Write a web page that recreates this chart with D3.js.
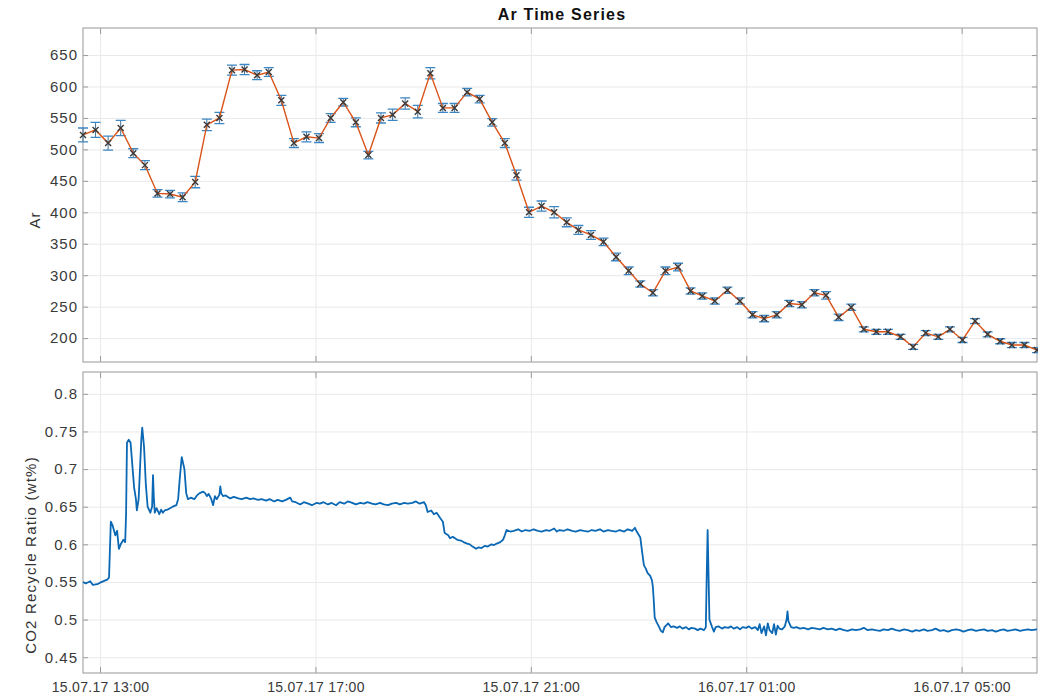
<!DOCTYPE html>
<html>
<head>
<meta charset="utf-8">
<script src="https://cdn.jsdelivr.net/npm/d3@7"></script>
<style>
  body { margin: 0; background: #fff; }
  svg { display: block; font-family: "Liberation Sans", Arial, sans-serif; }
  .axis path { display: none; }
  .axis line { stroke: #9a9a9a; }
  .axis text { fill: #3a3a3a; }
  .xaxis text { font-size: 14px; letter-spacing: 0.3px; }
  .yaxis text { font-size: 15px; letter-spacing: 1px; }
  .grid line { stroke: #e9e9e9; }
  .grid path { display: none; }
</style>
</head>
<body>
<div id="chart"></div>
<script>
// Ar samples (15.07.17 12:41 -> 16.07.17 06:24)
const arTimes = [
  '15.07.17 12:41', '15.07.17 12:55', '15.07.17 13:09', '15.07.17 13:23', '15.07.17 13:37', '15.07.17 13:50',
  '15.07.17 14:04', '15.07.17 14:18', '15.07.17 14:32', '15.07.17 14:46', '15.07.17 14:59', '15.07.17 15:13',
  '15.07.17 15:27', '15.07.17 15:41', '15.07.17 15:55', '15.07.17 16:08', '15.07.17 16:22', '15.07.17 16:36',
  '15.07.17 16:50', '15.07.17 17:04', '15.07.17 17:17', '15.07.17 17:31', '15.07.17 17:45', '15.07.17 17:59',
  '15.07.17 18:13', '15.07.17 18:26', '15.07.17 18:40', '15.07.17 18:54', '15.07.17 19:08', '15.07.17 19:22',
  '15.07.17 19:35', '15.07.17 19:49', '15.07.17 20:03', '15.07.17 20:17', '15.07.17 20:31', '15.07.17 20:44',
  '15.07.17 20:58', '15.07.17 21:12', '15.07.17 21:26', '15.07.17 21:40', '15.07.17 21:53', '15.07.17 22:07',
  '15.07.17 22:21', '15.07.17 22:35', '15.07.17 22:49', '15.07.17 23:02', '15.07.17 23:16', '15.07.17 23:30',
  '15.07.17 23:44', '15.07.17 23:58', '16.07.17 00:11', '16.07.17 00:25', '16.07.17 00:39', '16.07.17 00:53',
  '16.07.17 01:07', '16.07.17 01:20', '16.07.17 01:34', '16.07.17 01:48', '16.07.17 02:02', '16.07.17 02:16',
  '16.07.17 02:29', '16.07.17 02:43', '16.07.17 02:57', '16.07.17 03:11', '16.07.17 03:25', '16.07.17 03:38',
  '16.07.17 03:52', '16.07.17 04:06', '16.07.17 04:20', '16.07.17 04:34', '16.07.17 04:47', '16.07.17 05:01',
  '16.07.17 05:15', '16.07.17 05:29', '16.07.17 05:43', '16.07.17 05:56', '16.07.17 06:10', '16.07.17 06:24'
];
const arValues = [
  523, 531, 510, 534, 494, 475, 430, 429, 424, 448, 539, 550,
  626, 627, 618, 623, 578, 510, 520, 518, 550, 575, 543, 491,
  550, 555, 573, 560, 621, 566, 566, 591, 580, 543, 510, 459,
  400, 410, 400, 384, 372, 364, 353, 329, 307, 286, 272, 307,
  313, 275, 267, 259, 276, 259, 237, 231, 237, 255, 253, 272,
  268, 233, 249, 214, 210, 210, 202, 186, 208, 202, 214, 197,
  227, 206, 195, 189, 189, 181
];
const arErrors = [
  11, 12, 11, 12, 7, 7, 6, 6, 7, 9, 9, 9,
  8, 8, 7, 7, 8, 7, 8, 7, 7, 6, 7, 6,
  8, 9, 9, 10, 9, 7, 7, 6, 6, 6, 7, 8,
  8, 8, 9, 7, 7, 7, 6, 6, 6, 5, 5, 6,
  6, 5, 5, 5, 5, 5, 5, 5, 5, 5, 5, 5,
  6, 5, 5, 4, 4, 4, 4, 4, 4, 4, 4, 4,
  4, 4, 4, 4, 4, 4
];

// CO2 recycle ratio, minutes after the first Ar sample
const co2Minutes = [
  0, 3, 8, 11, 16, 19, 23, 27, 29, 31, 33, 36, 38, 40, 42, 45, 47, 48, 49, 51,
  53, 56, 57, 59, 60, 62, 65, 66, 68, 70, 72, 75, 77, 78, 79, 80, 82, 85, 87, 89,
  91, 94, 97, 100, 104, 106, 108, 110, 113, 115, 117, 120, 124, 127, 130, 134, 136, 138, 140, 143,
  145, 147, 149, 152, 153, 154, 156, 159, 164, 168, 173, 177, 182, 186, 190, 195, 199, 204, 208, 213,
  217, 222, 226, 231, 233, 237, 242, 246, 251, 255, 260, 264, 268, 273, 277, 282, 286, 291, 295, 300,
  304, 309, 313, 317, 322, 326, 331, 335, 340, 344, 349, 353, 358, 362, 367, 371, 375, 380, 382, 384,
  388, 391, 394, 398, 401, 403, 407, 409, 412, 417, 421, 424, 428, 431, 434, 438, 441, 444, 448, 451,
  455, 458, 461, 465, 468, 470, 472, 476, 480, 485, 489, 493, 498, 502, 507, 511, 516, 520, 525, 528,
  531, 536, 540, 545, 549, 554, 558, 563, 567, 571, 576, 580, 585, 589, 594, 598, 603, 607, 612, 615,
  617, 621, 623, 625, 627, 629, 632, 634, 635, 636, 637, 639, 642, 644, 646, 648, 652, 655, 658, 662,
  665, 668, 672, 675, 678, 682, 685, 688, 692, 694, 695, 696, 697, 698, 701, 703, 705, 708, 712, 715,
  719, 722, 725, 729, 732, 735, 739, 742, 745, 749, 752, 754, 756, 759, 761, 763, 765, 768, 770, 772,
  774, 776, 779, 782, 784, 785, 786, 789, 792, 795, 799, 803, 808, 812, 817, 821, 825, 830, 834, 839,
  843, 848, 852, 857, 861, 866, 870, 874, 879, 883, 888, 892, 897, 901, 906, 910, 915, 919, 924, 928,
  932, 937, 941, 946, 950, 955, 959, 964, 968, 973, 977, 981, 986, 990, 995, 999, 1004, 1008, 1013, 1017,
  1022, 1026, 1030, 1035, 1039, 1044, 1048, 1053, 1057, 1063
];
const co2Values = [
  0.550, 0.548, 0.551, 0.546, 0.547, 0.549, 0.551, 0.553, 0.556, 0.630, 0.625, 0.612, 0.618, 0.594, 0.600, 0.606, 0.603, 0.640, 0.735, 0.739,
  0.735, 0.690, 0.675, 0.660, 0.645, 0.660, 0.740, 0.755, 0.730, 0.680, 0.650, 0.642, 0.650, 0.692, 0.660, 0.642, 0.648, 0.640, 0.646, 0.642,
  0.645, 0.646, 0.648, 0.650, 0.652, 0.660, 0.690, 0.716, 0.700, 0.668, 0.660, 0.662, 0.660, 0.665, 0.668, 0.670, 0.668, 0.664, 0.667, 0.660,
  0.652, 0.664, 0.660, 0.666, 0.677, 0.668, 0.664, 0.665, 0.661, 0.663, 0.661, 0.660, 0.662, 0.660, 0.661, 0.659, 0.660, 0.658, 0.660, 0.657,
  0.659, 0.657, 0.659, 0.662, 0.657, 0.656, 0.653, 0.656, 0.654, 0.652, 0.655, 0.654, 0.656, 0.653, 0.655, 0.652, 0.656, 0.654, 0.657, 0.655,
  0.653, 0.655, 0.654, 0.656, 0.654, 0.653, 0.655, 0.653, 0.652, 0.654, 0.655, 0.653, 0.655, 0.654, 0.655, 0.657, 0.654, 0.656, 0.652, 0.643,
  0.645, 0.640, 0.642, 0.635, 0.630, 0.615, 0.612, 0.608, 0.610, 0.606, 0.605, 0.603, 0.601, 0.600, 0.597, 0.594, 0.596, 0.595, 0.598, 0.597,
  0.600, 0.599, 0.601, 0.603, 0.606, 0.612, 0.619, 0.617, 0.618, 0.620, 0.617, 0.619, 0.618, 0.620, 0.618, 0.617, 0.619, 0.618, 0.621, 0.617,
  0.619, 0.618, 0.620, 0.618, 0.617, 0.619, 0.618, 0.617, 0.619, 0.618, 0.620, 0.617, 0.619, 0.618, 0.617, 0.619, 0.617, 0.620, 0.618, 0.622,
  0.617, 0.609, 0.590, 0.572, 0.568, 0.562, 0.558, 0.552, 0.543, 0.525, 0.503, 0.497, 0.490, 0.485, 0.483, 0.490, 0.495, 0.490, 0.491, 0.489,
  0.491, 0.488, 0.490, 0.487, 0.489, 0.488, 0.486, 0.488, 0.486, 0.490, 0.560, 0.619, 0.560, 0.500, 0.490, 0.484, 0.490, 0.491, 0.488, 0.490,
  0.489, 0.491, 0.488, 0.490, 0.487, 0.490, 0.489, 0.491, 0.488, 0.490, 0.486, 0.494, 0.482, 0.491, 0.479, 0.495, 0.486, 0.482, 0.494, 0.480,
  0.492, 0.488, 0.487, 0.491, 0.500, 0.511, 0.498, 0.490, 0.489, 0.490, 0.488, 0.489, 0.487, 0.489, 0.488, 0.487, 0.489, 0.487, 0.488, 0.486,
  0.488, 0.486, 0.485, 0.487, 0.486, 0.487, 0.489, 0.486, 0.487, 0.486, 0.485, 0.487, 0.486, 0.488, 0.486, 0.485, 0.487, 0.486, 0.484, 0.486,
  0.485, 0.487, 0.485, 0.486, 0.488, 0.485, 0.486, 0.484, 0.486, 0.487, 0.486, 0.484, 0.486, 0.487, 0.485, 0.486, 0.487, 0.485, 0.486, 0.484,
  0.486, 0.487, 0.485, 0.486, 0.487, 0.485, 0.486, 0.487, 0.486, 0.487
];

const xTickLabels = ['15.07.17 13:00', '15.07.17 17:00', '15.07.17 21:00', '16.07.17 01:00', '16.07.17 05:00'];
const arTicks = [200, 250, 300, 350, 400, 450, 500, 550, 600, 650];
const co2Ticks = [0.45, 0.5, 0.55, 0.6, 0.65, 0.7, 0.75, 0.8];

const width = 1038, height = 700;
const left = 83, right = 1037;
const topPanel = { y0: 28, y1: 362 };
const botPanel = { y0: 372, y1: 673 };

const parseTime = d3.timeParse('%d.%m.%y %H:%M');
const fmtTime = d3.timeFormat('%d.%m.%y %H:%M');

const arData = arTimes.map((t, i) => ({ t: parseTime(t), v: arValues[i], e: arErrors[i] }));
const t0 = arData[0].t;
const co2Data = co2Minutes.map((m, i) => ({ t: d3.timeMinute.offset(t0, m), v: co2Values[i] }));
const xTicks = xTickLabels.map(parseTime);

const x = d3.scaleTime()
    .domain([t0, arData[arData.length - 1].t])
    .range([left, right]);
const yAr = d3.scaleLinear().domain([162, 693]).range([topPanel.y1, topPanel.y0]);
const yCo2 = d3.scaleLinear().domain([0.429, 0.829]).range([botPanel.y1, botPanel.y0]);

const svg = d3.select('#chart').append('svg')
    .attr('width', width)
    .attr('height', height);

function drawFrame(panel, y, ticks, fmt, showX) {
    const w = right - left, h = panel.y1 - panel.y0;

    svg.append('g').attr('class', 'grid')
        .attr('transform', `translate(0,${panel.y1})`)
        .call(d3.axisBottom(x).tickValues(xTicks).tickSize(-h).tickFormat(''));
    svg.append('g').attr('class', 'grid')
        .attr('transform', `translate(${left},0)`)
        .call(d3.axisLeft(y).tickValues(ticks).tickSize(-w).tickFormat(''));

    svg.append('g').attr('class', 'axis xaxis')
        .attr('transform', `translate(0,${panel.y1})`)
        .call(d3.axisBottom(x).tickValues(xTicks).tickSizeInner(-6).tickSizeOuter(0).tickPadding(9)
            .tickFormat(showX ? fmtTime : ''));
    svg.append('g').attr('class', 'axis')
        .attr('transform', `translate(0,${panel.y0})`)
        .call(d3.axisTop(x).tickValues(xTicks).tickSizeInner(-6).tickSizeOuter(0).tickFormat(''));
    svg.append('g').attr('class', 'axis yaxis')
        .attr('transform', `translate(${left},0)`)
        .call(d3.axisLeft(y).tickValues(ticks).tickSizeInner(-5).tickSizeOuter(0).tickPadding(5).tickFormat(fmt));
    svg.append('g').attr('class', 'axis')
        .attr('transform', `translate(${right},0)`)
        .call(d3.axisRight(y).tickValues(ticks).tickSizeInner(-5).tickSizeOuter(0).tickFormat(''));

    svg.append('rect')
        .attr('x', left).attr('y', panel.y0)
        .attr('width', w).attr('height', h)
        .attr('fill', 'none')
        .attr('stroke', '#a8a8a8')
        .attr('stroke-width', 1.2);
}

drawFrame(topPanel, yAr, arTicks, d3.format('d'), false);
drawFrame(botPanel, yCo2, co2Ticks, d => String(+d.toFixed(2)), true);

// Ar error bars, line and markers
const eb = svg.append('g').selectAll('g')
    .data(arData)
    .enter().append('g');
eb.append('line')
    .attr('x1', d => x(d.t)).attr('x2', d => x(d.t))
    .attr('y1', d => yAr(d.v - d.e)).attr('y2', d => yAr(d.v + d.e))
    .attr('stroke', '#3f6f98').attr('stroke-width', 1);
eb.append('path')
    .attr('d', d => {
        const cx = x(d.t);
        return `M${cx - 5},${yAr(d.v + d.e)}H${cx + 5}M${cx - 5},${yAr(d.v - d.e)}H${cx + 5}`;
    })
    .attr('stroke', '#3b86c4').attr('stroke-width', 1.3).attr('fill', 'none');

svg.append('path')
    .datum(arData)
    .attr('fill', 'none')
    .attr('stroke', '#d95319')
    .attr('stroke-width', 1.4)
    .attr('d', d3.line().x(d => x(d.t)).y(d => yAr(d.v)));

svg.append('g').selectAll('path')
    .data(arData)
    .enter().append('path')
    .attr('d', d => {
        const cx = x(d.t), cy = yAr(d.v), s = 3;
        return `M${cx - s},${cy - s}L${cx + s},${cy + s}M${cx - s},${cy + s}L${cx + s},${cy - s}`;
    })
    .attr('stroke', '#3a3a3a').attr('stroke-width', 1.4).attr('fill', 'none');

// CO2 line
svg.append('path')
    .datum(co2Data)
    .attr('fill', 'none')
    .attr('stroke', '#0a68b4')
    .attr('stroke-width', 1.8)
    .attr('stroke-linejoin', 'round')
    .attr('d', d3.line().x(d => x(d.t)).y(d => yCo2(d.v)));

// titles
svg.append('text')
    .attr('x', 562).attr('y', 20)
    .attr('text-anchor', 'middle')
    .style('font-size', '16px').style('font-weight', 'bold').style('fill', '#111')
    .style('letter-spacing', '1.2px')
    .text('Ar Time Series');

svg.append('text')
    .attr('transform', 'translate(40,220) rotate(-90)')
    .attr('text-anchor', 'middle')
    .style('font-size', '15px').style('fill', '#333').style('letter-spacing', '1px')
    .text('Ar');

svg.append('text')
    .attr('transform', 'translate(36,555) rotate(-90)')
    .attr('text-anchor', 'middle')
    .style('font-size', '15px').style('fill', '#333').style('letter-spacing', '1.2px')
    .text('CO2 Recycle Ratio (wt%)');
</script>
</body>
</html>
